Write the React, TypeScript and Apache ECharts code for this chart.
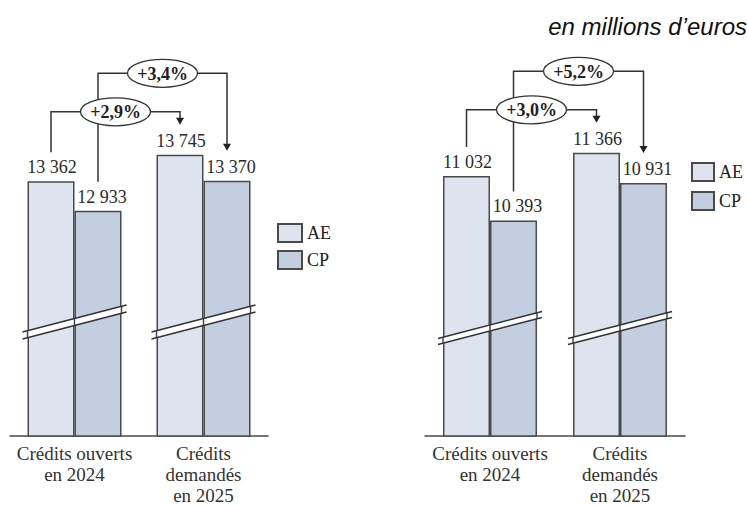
import React, { useEffect, useRef } from "react";
import * as echarts from "echarts";

const categories = ["Crédits ouverts\nen 2024", "Crédits\ndemandés\nen 2025"];
const seriesNames = ["AE", "CP"];
const leftAE = [13362, 13745];
const leftCP = [12933, 13370];
const rightAE = [11032, 11366];
const rightCP = [10393, 10931];
const leftRange = [9670, 13945];
const rightRange = [7290, 11565];
const unitLabel = "en millions d’euros";

const AE_COLOR = "#dde4ef";
const CP_COLOR = "#c3cee1";
const EDGE = "#4a4a4a";
const SERIF = "'Liberation Serif', 'DejaVu Serif', serif";
const BAR_W = 47;

const fmt = (v: number) => String(v).replace(/\B(?=(\d{3})+(?!\d))/g, " ");
const pct = (a: number, b: number) =>
  "+" + ((b / a - 1) * 100).toFixed(1).replace(".", ",") + "%";

const panels = [
  { ae: leftAE, cp: leftCP, range: leftRange, grid: { left: 10, top: 141, width: 258, height: 300 }, lift: 97, sep: 7 },
  { ae: rightAE, cp: rightCP, range: rightRange, grid: { left: 425, top: 139, width: 260, height: 300 }, lift: 91.5, sep: 6 },
];

function barSeries(name: string, data: number[], g: number, color: string, dx: number) {
  return {
    name,
    type: "bar",
    xAxisIndex: g,
    yAxisIndex: g,
    data,
    barWidth: BAR_W,
    barGap: "0%",
    itemStyle: { color, borderColor: EDGE, borderWidth: 1.5 },
    label: {
      show: true,
      position: "top",
      distance: 5,
      offset: [dx, 0],
      formatter: (p: any) => fmt(p.value),
      fontFamily: SERIF,
      fontSize: 18,
      color: "#2a2a2a",
    },
  };
}

export default function App() {
  const ref = useRef<HTMLDivElement>(null);
  useEffect(() => {
    if (!ref.current) return;
    const chart = echarts.init(ref.current, undefined, { renderer: "svg" });
    const option: any = {
      animation: false,
      title: {
        text: unitLabel,
        right: 0,
        top: 14,
        padding: 0,
        textStyle: {
          fontFamily: "'Liberation Sans', Arial, sans-serif",
          fontStyle: "italic",
          fontWeight: "normal",
          fontSize: 24,
          color: "#111",
        },
      },
      grid: panels.map((p) => p.grid),
      xAxis: panels.map((p, g) => ({
        type: "category",
        gridIndex: g,
        data: categories,
        axisLine: { lineStyle: { color: EDGE, width: 1.5 } },
        axisTick: { show: false },
        axisLabel: {
          interval: 0,
          margin: 7,
          fontFamily: SERIF,
          fontSize: 19,
          lineHeight: 21,
          color: "#333",
        },
      })),
      yAxis: panels.map((p, g) => ({
        type: "value",
        gridIndex: g,
        min: p.range[0],
        max: p.range[1],
        show: false,
      })),
      legend: [
        { left: 277, top: 223, itemGap: 7, itemWidth: 24 },
        { left: 691, top: 162, itemGap: 9, itemWidth: 22 },
      ].map((l) => ({
        ...l,
        data: seriesNames,
        orient: "vertical",
        icon: "rect",
        itemHeight: 18,
        padding: 0,
        selectedMode: false,
        textStyle: { fontFamily: SERIF, fontSize: 18, color: "#222" },
      })),
      series: panels.flatMap((p, g) => [
        barSeries(seriesNames[0], p.ae, g, AE_COLOR, 1),
        barSeries(seriesNames[1], p.cp, g, CP_COLOR, 4),
      ]),
    };
    chart.setOption(option);

    const graphics: any[] = [];
    panels.forEach((p, g) => {
      const sAE = 2 * g;
      const sCP = 2 * g + 1;
      const px = (s: number, c: number, v: number) =>
        chart.convertToPixel({ seriesIndex: s }, [c, v]) as number[];

      // axis breaks
      [0, 1].forEach((c) => {
        const base = px(sAE, c, p.range[0]);
        const cx = base[0];
        const bottom = base[1];
        const x0 = cx - BAR_W - 5;
        const x1 = cx + BAR_W + 5;
        const rise = 27;
        const lo0 = bottom - p.lift;
        const lo1 = lo0 - rise;
        const up0 = lo0 - p.sep;
        const up1 = lo1 - p.sep;
        graphics.push({
          type: "polygon",
          z: 50,
          shape: { points: [[x0, up0], [x1, up1], [x1, lo1], [x0, lo0]] },
          style: { fill: "#ffffff" },
        });
        [cx - BAR_W, cx, cx + BAR_W].forEach((vx) => {
          const t = (vx - x0) / (x1 - x0);
          graphics.push({
            type: "line",
            z: 50,
            shape: { x1: vx, y1: up0 + (up1 - up0) * t, x2: vx, y2: lo0 + (lo1 - lo0) * t },
            style: { stroke: EDGE, lineWidth: 1.5 },
          });
        });
        graphics.push({
          type: "line",
          z: 51,
          shape: { x1: x0, y1: lo0, x2: x1, y2: lo1 },
          style: { stroke: "#333", lineWidth: 1.5 },
        });
        graphics.push({
          type: "line",
          z: 51,
          shape: { x1: x0, y1: up0, x2: x1, y2: up1 },
          style: { stroke: "#333", lineWidth: 1.5 },
        });
      });

      // brackets
      const a0 = px(sAE, 0, p.ae[0]);
      const a1 = px(sAE, 1, p.ae[1]);
      const c0 = px(sCP, 0, p.cp[0]);
      const c1 = px(sCP, 1, p.cp[1]);
      const lowStart = [a0[0] - BAR_W / 2, a0[1] - 29];
      const lowEnd = [a1[0] - BAR_W / 2, a1[1] - 30];
      const lowLevel = Math.min(lowStart[1], lowEnd[1]) - 13;
      const upStart = [c0[0] + BAR_W / 2, c0[1] - 29];
      const upEnd = [c1[0] + BAR_W / 2, c1[1] - 30];
      const upLevel = lowLevel - 38.5;

      const bracket = (st: number[], en: number[], level: number, text: string) => {
        graphics.push({
          type: "polyline",
          z: 60,
          shape: { points: [[st[0], st[1]], [st[0], level], [en[0], level], [en[0], en[1] - 6]] },
          style: { stroke: "#333", lineWidth: 1.5, fill: null },
        });
        graphics.push({
          type: "polygon",
          z: 60,
          shape: { points: [[en[0] - 4, en[1] - 7], [en[0] + 4, en[1] - 7], [en[0], en[1]]] },
          style: { fill: "#222" },
        });
        const mx = (st[0] + en[0]) / 2;
        graphics.push({
          type: "ellipse",
          z: 70,
          shape: { cx: mx, cy: level, rx: 35, ry: 14 },
          style: { fill: "#ffffff", stroke: "#333", lineWidth: 1.3 },
        });
        graphics.push({
          type: "text",
          z: 71,
          x: mx,
          y: level + 0.5,
          style: {
            text,
            fontFamily: SERIF,
            fontWeight: "bold",
            fontSize: 18,
            fill: "#222",
            align: "center",
            verticalAlign: "middle",
          },
        });
      };
      bracket(upStart, upEnd, upLevel, pct(p.cp[0], p.cp[1]));
      bracket(lowStart, lowEnd, lowLevel, pct(p.ae[0], p.ae[1]));
    });
    chart.setOption({ graphic: graphics });

    return () => chart.dispose();
  }, []);
  return (
    <div
      ref={ref}
      style={{ position: "absolute", left: 0, top: 0, width: 747, height: 506, background: "#fff" }}
    />
  );
}
